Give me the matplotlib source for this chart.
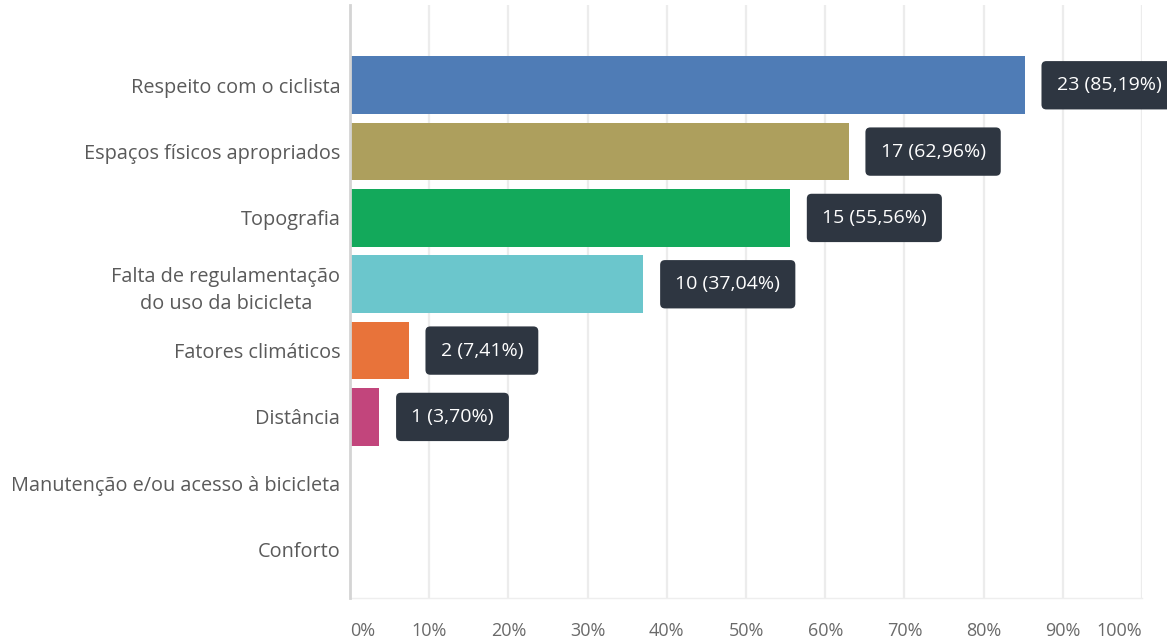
import matplotlib.pyplot as plt

OUT_PNG = "out.png"

# answers, top to bottom
categories = [
    "Respeito com o ciclista",
    "Espaços físicos apropriados",
    "Topografia",
    "Falta de regulamentação\ndo uso da bicicleta",
    "Fatores climáticos",
    "Distância",
    "Manutenção e/ou acesso à bicicleta",
    "Conforto",
]
counts = [23, 17, 15, 10, 2, 1, 0, 0]
percents = [85.19, 62.96, 55.56, 37.04, 7.41, 3.70, 0.0, 0.0]
bar_colors = ["#4f7cb6", "#ad9f5d", "#13a95b", "#6bc6cc", "#e8733a", "#c2457c",
              "#999999", "#999999"]
tick_values = [0, 10, 20, 30, 40, 50, 60, 70, 80, 90, 100]
tick_labels = ["0%", "10%", "20%", "30%", "40%", "50%", "60%", "70%", "80%", "90%", "100%"]

plt.rcParams["font.family"] = ["Open Sans", "DejaVu Sans"]

fig = plt.figure(figsize=(11.67, 6.41), dpi=100)
ax = fig.add_axes([350 / 1167, 1 - 598 / 641, 792 / 1167, 593 / 641])

rows = list(range(len(categories)))
ax.barh(rows, percents, height=0.87, color=bar_colors, zorder=3)

# value boxes next to each non-empty bar
for y, pct, n in zip(rows, percents, counts):
    if n == 0:
        continue
    txt = f"{n} ({pct:.2f}%)".replace(".", ",")
    ax.annotate(txt, xy=(pct, y), xytext=(23, 0), textcoords="offset points",
                ha="left", va="center", color="white", fontsize=14,
                bbox=dict(boxstyle="round,pad=0.78,rounding_size=0.25",
                          fc="#2e3641", ec="none"),
                zorder=5, annotation_clip=False)

ax.set_xlim(0, 100)
ax.set_ylim(7.73, -1.21)

ax.set_yticks(rows)
ax.set_yticklabels(categories, fontsize=14.3, color="#5a5a5a",
                   multialignment="center", linespacing=1.45)
ax.tick_params(axis="y", length=0, pad=7)

ax.set_xticks(tick_values)
ax.set_xticklabels(tick_labels, fontsize=13, color="#6a6a6a")
ax.tick_params(axis="x", length=0, pad=17)
xt = ax.get_xticklabels()
xt[0].set_ha("left")
xt[-1].set_ha("right")

ax.grid(axis="x", color="#ececec", linewidth=1.6, zorder=0)
ax.grid(axis="y", visible=False)
for side in ["top", "right"]:
    ax.spines[side].set_visible(False)
ax.spines["left"].set_color("#d4d4d4")
ax.spines["left"].set_linewidth(2)
ax.spines["left"].set_zorder(4)
ax.spines["bottom"].set_color("#eeeeee")
ax.spines["bottom"].set_linewidth(1)

plt.savefig(OUT_PNG, dpi=100)
